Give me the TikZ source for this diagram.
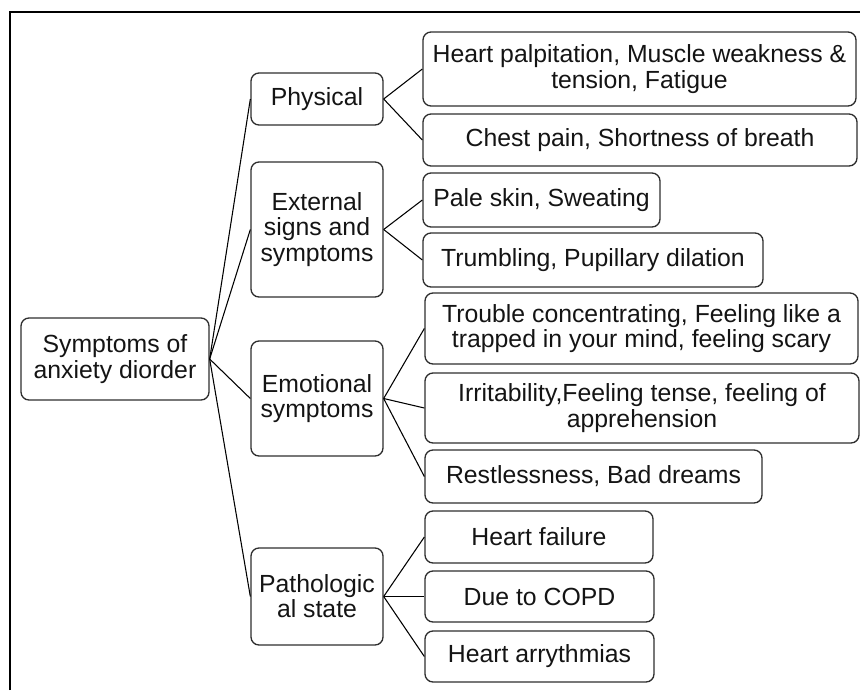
\documentclass[tikz,border=0pt]{standalone}
\usepackage{fontspec}
\setmainfont{Liberation Sans}
\definecolor{ink}{HTML}{141414}
\definecolor{rand}{HTML}{2E2E2E}
\newcommand{\txt}{\fontsize{18.6}{18.9}\selectfont}
\tikzset{kasten/.style={draw=rand,line width=1pt,rounded corners=6pt,text=ink,
    align=center,inner sep=0pt,font=\txt},
  ast/.style={black,line width=0.8pt},
  rahmen/.style={black,line width=1.6pt}}
% #1 Name, #2/#3 Mitte (px), #4/#5 Breite/Hoehe (px), #6 Text
\newcommand{\symbox}[6]{\node[kasten,minimum width={#4*0.75pt},
  minimum height={#5*0.75pt}] (#1) at (#2,#3) {#6};}

\begin{document}
\begin{tikzpicture}[x=0.75pt,y=-0.75pt]
\useasboundingbox (0,0) rectangle (860,690);
% Rahmen nur oben und links, wie im Ausschnitt
\draw[rahmen] (10,690) -- (10,12) -- (860,12);
% Wurzel und erste Ebene
\symbox{root}{115}{359}{188}{82}{Symptoms of\\anxiety diorder}
\symbox{phys}{317}{99}{132}{52}{Physical}
\symbox{ext}{317}{229.5}{132}{135}{External\\signs and\\symptoms}
\symbox{emo}{317}{398.5}{132}{115}{Emotional\\symptoms}
\symbox{path}{317}{596.5}{132}{97}{Pathologic\\al state}
% zweite Ebene
\symbox{palp}{639.5}{69}{433}{74}{Heart palpitation, Muscle weakness \&\\tension, Fatigue}
\symbox{chest}{640}{140}{434}{52}{Chest pain, Shortness of breath}
\symbox{pale}{541.5}{200}{237}{54}{Pale skin, Sweating}
\symbox{trum}{593}{260}{340}{54}{Trumbling, Pupillary dilation}
\symbox{trouble}{641.5}{328.5}{433}{71}{Trouble concentrating, Feeling like a\\trapped in your mind, feeling scary}
\symbox{irrit}{642}{408}{434}{70}{Irritability,Feeling tense, feeling of\\apprehension}
\symbox{rest}{593.5}{476.5}{337}{53}{Restlessness, Bad dreams}
\symbox{hfail}{539}{537}{228}{52}{Heart failure}
\symbox{copd}{539.5}{596.5}{229}{51}{Due to COPD}
\symbox{arry}{539.5}{656.5}{229}{51}{Heart arrythmias}
% Aeste
\foreach \k in {phys,ext,emo,path}
  \draw[ast] (root.east) -- (\k.west);
\foreach \a/\b in {phys/palp,phys/chest,ext/pale,ext/trum,emo/trouble,emo/irrit,
  emo/rest,path/hfail,path/copd,path/arry}
  \draw[ast] (\a.east) -- (\b.west);
\end{tikzpicture}
\end{document}
